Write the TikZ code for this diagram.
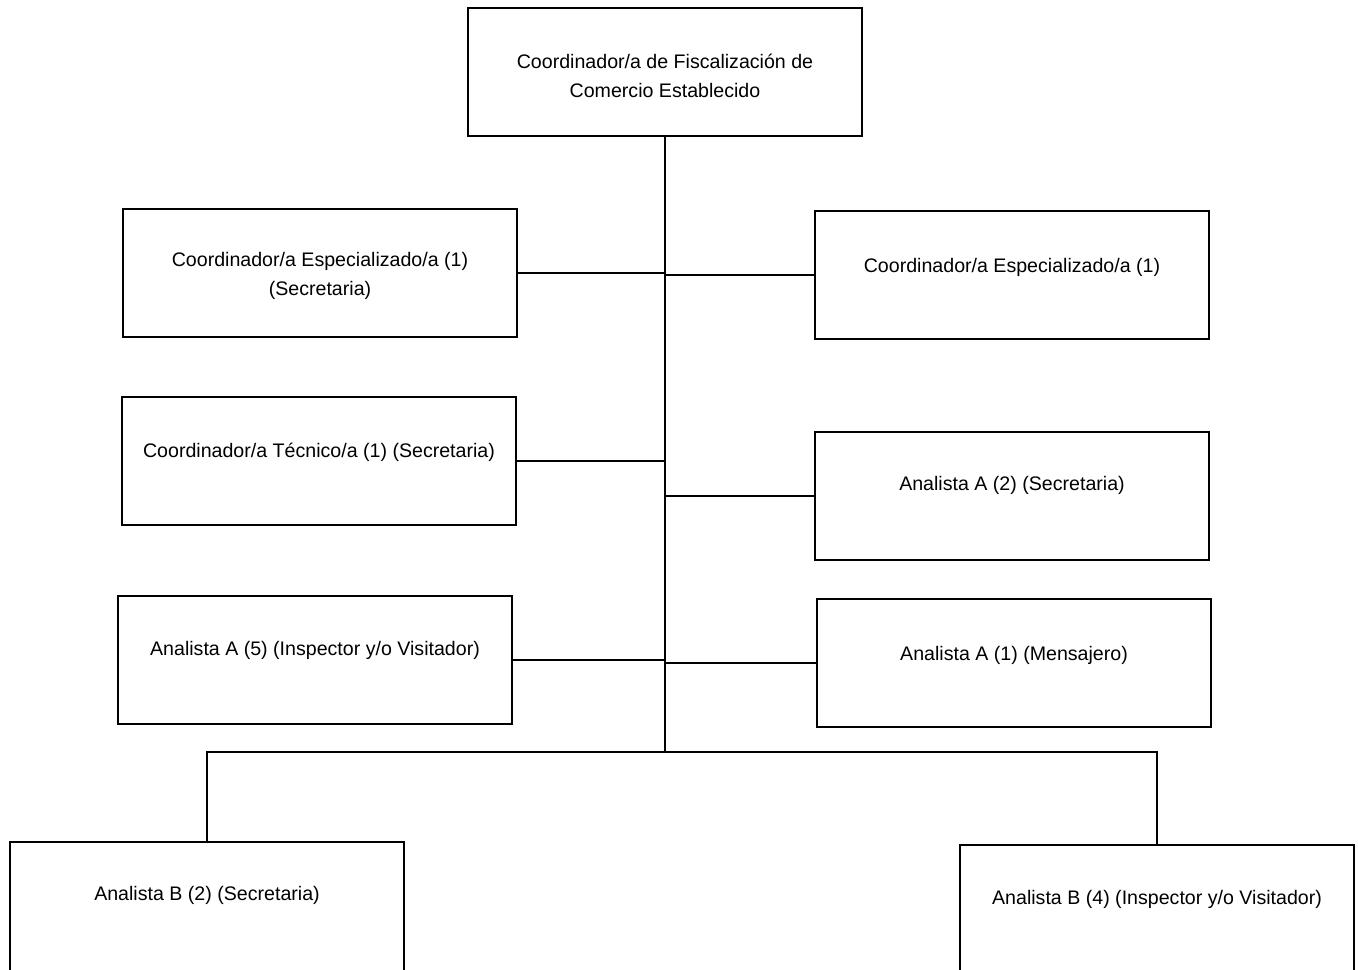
\documentclass[tikz,border=0pt]{standalone}
\usepackage{fontspec}
\setmainfont{Liberation Sans}
\usetikzlibrary{positioning}

\begin{document}
\begin{tikzpicture}[x=0.5pt,y=-0.5pt,
    box/.style={draw, line width=0.8pt, minimum width=197pt, minimum height=64pt, inner sep=0pt},
    tallbox/.style={box, minimum height=70pt},
    txt/.style={font=\fontsize{9.8}{14.5}\selectfont, align=center, inner sep=0pt},
    link/.style={line width=0.8pt}]
    \useasboundingbox (0,0) rectangle (1358,969);

    % Head
    \node[box] (coord) at (665,72) {};
    \node[txt] (coordT) at (665,75.5) {Coordinador/a de Fiscalización de\\Comercio Establecido};

    % Left column
    \node[box] (esp1) at (320,273) {};
    \node[txt] (esp1T) at (320,275.5) {Coordinador/a Especializado/a (1)\\(Secretaria)};
    \node[box] (tec) at (319,461) {};
    \node[txt] (tecT) at (319,452) {Coordinador/a Técnico/a (1) (Secretaria)};
    \node[box] (insA) at (315,660) {};
    \node[txt] (insAT) at (315,650) {Analista A (5) (Inspector y/o Visitador)};

    % Right column
    \node[box] (esp2) at (1012,275) {};
    \node[txt] (esp2T) at (1012,267) {Coordinador/a Especializado/a (1)};
    \node[box] (secA) at (1012,496) {};
    \node[txt] (secAT) at (1012,485) {Analista A (2) (Secretaria)};
    \node[box] (men) at (1014,663) {};
    \node[txt] (menT) at (1014,655) {Analista A (1) (Mensajero)};

    % Bottom row
    \node[tallbox] (secB) at (207,912) {};
    \node[txt] (secBT) at (207,895) {Analista B (2) (Secretaria)};
    \node[tallbox] (insB) at (1157,915) {};
    \node[txt] (insBT) at (1157,899) {Analista B (4) (Inspector y/o Visitador)};

    % Connectors
    \coordinate (trunk) at (665,752);
    \draw[link] (coord.south) -- (trunk);
    \foreach \n in {esp1, tec, insA} {
        \draw[link] (\n.east) -- (\n.east -| trunk);
    }
    \foreach \n in {esp2, secA, men} {
        \draw[link] (\n.west -| trunk) -- (\n.west);
    }
    \draw[link] (secB.north) |- (trunk) -| (insB.north);
\end{tikzpicture}
\end{document}
